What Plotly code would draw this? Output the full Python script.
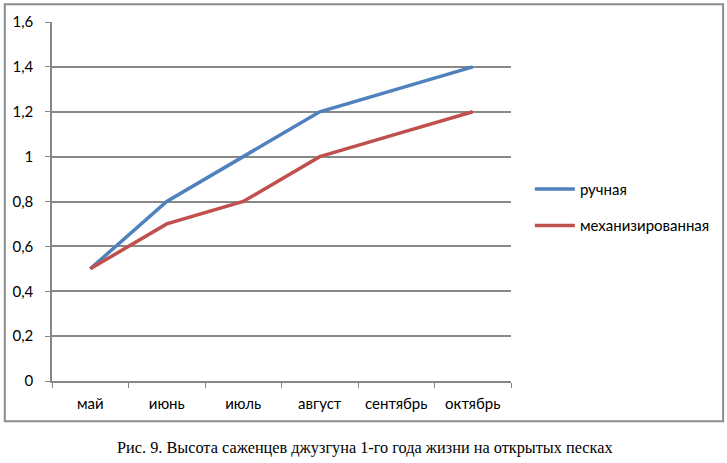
import plotly.graph_objects as go

months = ["май", "июнь", "июль", "август", "сентябрь", "октябрь"]
manual = [0.5, 0.8, 1.0, 1.2, 1.3, 1.4]
mechanized = [0.5, 0.7, 0.8, 1.0, 1.1, 1.2]
series_names = ["ручная", "механизированная"]
y_ticks = [0, 0.2, 0.4, 0.6, 0.8, 1.0, 1.2, 1.4, 1.6]
y_labels = ["0", "0,2", "0,4", "0,6", "0,8", "1", "1,2", "1,4", "1,6"]
caption = "Рис. 9. Высота саженцев джузгуна 1-го года жизни на открытых песках"

W, H = 727, 463
L, R, T, B = 49, 511, 19, 381

fig = go.Figure()
fig.add_trace(go.Scatter(x=months, y=manual, mode="lines", name=series_names[0],
                         legendgroup="a",
                         line=dict(color="#4F81BD", width=3.5)))
fig.add_trace(go.Scatter(x=months, y=mechanized, mode="lines", name=series_names[1],
                         legendgroup="b",
                         line=dict(color="#C0504D", width=3.5)))

def px_x(p):
    return (p - L) / (R - L)

def px_y(p):
    return (B - p) / (B - T)

fig.add_shape(type="rect", xref="paper", yref="paper",
              x0=px_x(1.5), x1=px_x(724.5), y0=px_y(421.5), y1=px_y(1),
              line=dict(color="#8c8c8c", width=2), fillcolor="rgba(0,0,0,0)", layer="below")

fig.add_annotation(text=caption, xref="paper", yref="paper", x=px_x(364), y=px_y(448),
                   showarrow=False, xanchor="center", yanchor="middle",
                   font=dict(family="Liberation Serif", size=16.3, color="#000"))

fig.update_layout(
    width=W, height=H,
    margin=dict(l=L, r=W - R, t=T, b=H - B, pad=0),
    paper_bgcolor="white", plot_bgcolor="white",
    separators=", ",
    font=dict(family="Lato, 'Open Sans', sans-serif", size=15, color="#000"),
    showlegend=True,
    legend=dict(x=px_x(530), y=px_y(171), xanchor="left", yanchor="top",
                font=dict(size=15), itemwidth=40, tracegroupgap=14,
                bgcolor="rgba(0,0,0,0)"),
    xaxis=dict(type="category", range=[-0.5, 5.5], showgrid=False,
               showline=True, linecolor="#868686", linewidth=1.5,
               ticks="outside", ticklen=5, tickcolor="#868686",
               tickson="boundaries", ticklabelstandoff=8, zeroline=False),
    yaxis=dict(range=[0, 1.6], tickvals=y_ticks, ticktext=y_labels,
               showgrid=True, gridcolor="#888888", gridwidth=1.5,
               showline=True, linecolor="#868686", linewidth=1.5,
               ticks="outside", ticklen=5, tickcolor="#868686",
               ticklabelstandoff=9, zeroline=False),
)

fig.write_html("out.html", config={"displayModeBar": False},
               post_script="document.body.style.margin='0';document.body.style.overflow='hidden';")
